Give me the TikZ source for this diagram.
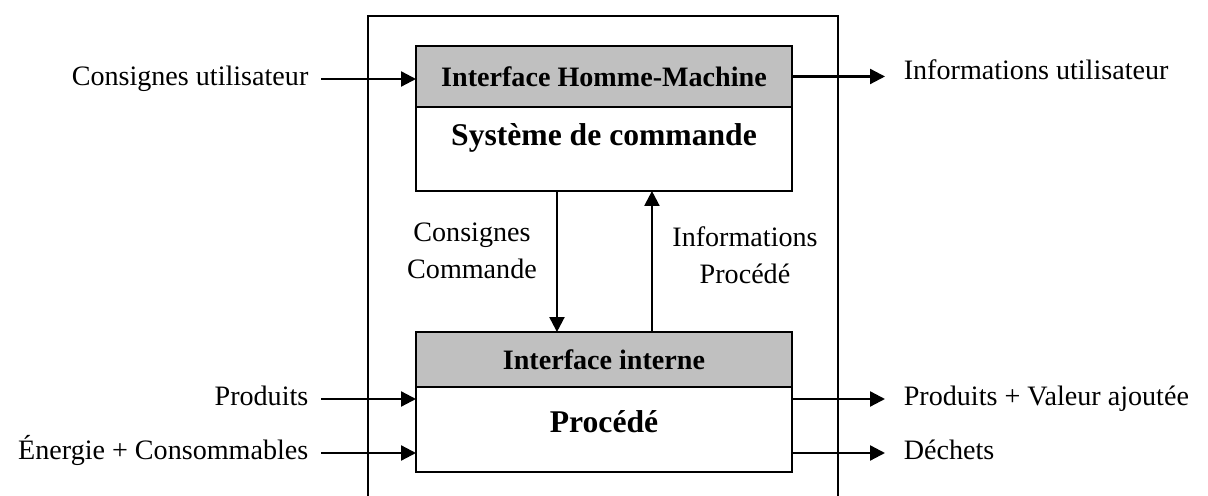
\documentclass[tikz,border=0pt]{standalone}
\usepackage{fontspec}
\setmainfont{Liberation Serif}
\usetikzlibrary{arrows.meta, positioning}
\definecolor{entete}{RGB}{192,192,192}

\begin{document}
\begin{tikzpicture}[x=0.02cm, y=-0.02cm,
  bloc/.style={draw, line width=1.2pt, minimum width=7.52cm, inner sep=0pt, outer sep=0pt},
  titre/.style={font=\fontsize{16}{20}\selectfont\bfseries},
  nom/.style={font=\fontsize{18}{22}\selectfont\bfseries},
  fleche/.style={line width=1.3pt, -{Triangle[length=8.5pt, width=8.5pt]}},
  texte/.style={font=\fontsize{16}{21}\selectfont, text height=11pt, text depth=3.5pt, inner ysep=0pt},
  texteG/.style={texte, inner xsep=7pt, anchor=east},
  texteD/.style={texte, inner xsep=10.5pt, anchor=west},
  legende/.style={font=\fontsize{16}{21}\selectfont, align=center}]
\useasboundingbox (0,0) rectangle (1208,496);
\clip (0,0) rectangle (1208,496);

% Cadre
\draw[line width=0.9pt] (368,16) rectangle (838,520);

% Systeme de commande
\node[bloc, fill=entete, minimum height=1.22cm, anchor=north west, titre] (ihm) at (416,46) {Interface Homme-Machine};
\node[bloc, minimum height=1.68cm, below=0pt of ihm] (sdc) {};
\node[nom] (sdct) at (604,138) {Système de commande};

% Procede
\node[bloc, fill=entete, minimum height=1.1cm, anchor=north west, titre] (ii) at (416,332) {Interface interne};
\node[bloc, minimum height=1.7cm, below=0pt of ii] (proc) {};
\node[nom] (proct) at (604,422) {Procédé};

% Echanges internes
\draw[fleche] ([xshift=-0.94cm]sdc.south) -- ([xshift=-0.94cm]sdc.south |- ii.north);
\draw[fleche] ([xshift=0.96cm]ii.north) -- ([xshift=0.96cm]ii.north |- sdc.south);
\node[legende] (cc) at (472,251) {Consignes\\Commande};
\node[legende] (ip) at (745,255) {Informations\\Procédé};

% Entrees
\node[texteG] (cu) at (321,79) {Consignes utilisateur};
\node[texteG] (prod) at (321,399) {Produits};
\node[texteG] (energ) at (321,453) {Énergie + Consommables};
\draw[fleche] (cu.east) -- (cu.east -| ihm.west);
\draw[fleche] (prod.east) -- (prod.east -| proc.west);
\draw[fleche] (energ.east) -- (energ.east -| proc.west);

% Sorties
\node[texteD] (iu) at (885,73) {Informations utilisateur};
\node[texteD] (pva) at (885,399) {Produits + Valeur ajoutée};
\node[texteD] (dech) at (885,453) {Déchets};
\draw[fleche] (ihm.east) -- (ihm.east -| iu.west);
\draw[fleche] (proc.east |- pva.west) -- (pva.west);
\draw[fleche] (proc.east |- dech.west) -- (dech.west);
\end{tikzpicture}
\end{document}
